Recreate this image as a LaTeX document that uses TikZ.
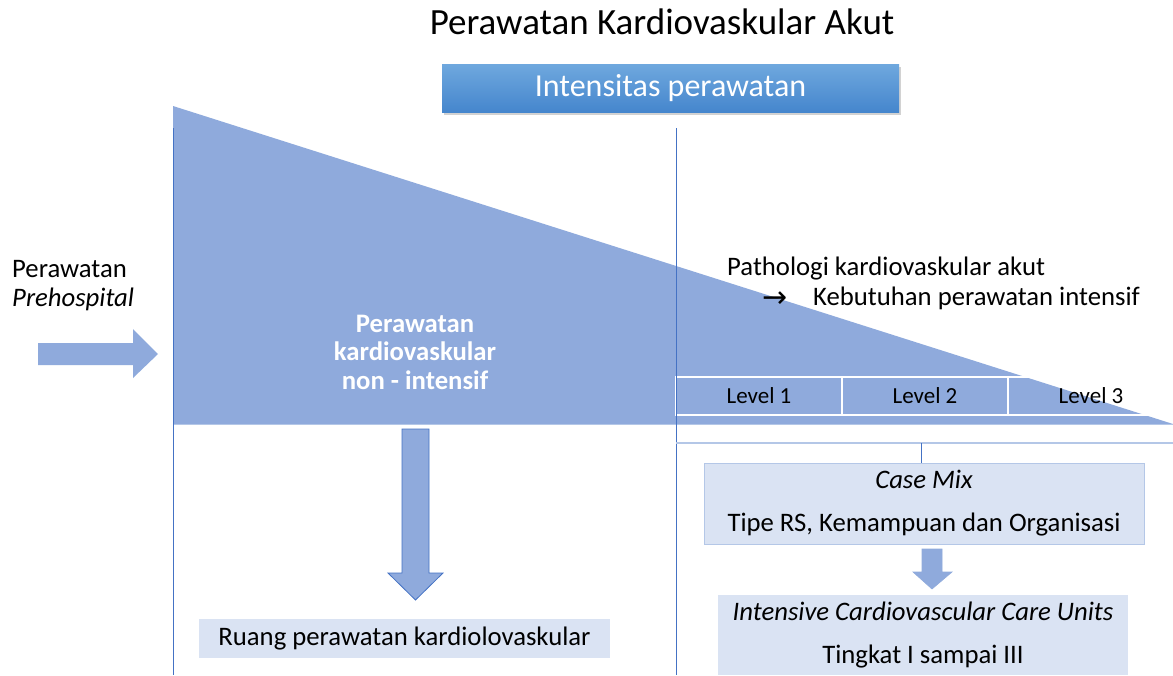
\documentclass[tikz,border=0pt]{standalone}
\usepackage{fontspec}
\setmainfont{Carlito}
\newfontfamily\symfont{DejaVu Sans}
\usetikzlibrary{shadows}
\definecolor{triblue}{HTML}{8FAADC}
\definecolor{lineblue}{HTML}{4472C4}
\definecolor{boxblue}{HTML}{DAE3F3}
\definecolor{lightline}{HTML}{B4C7E7}
\definecolor{hdtop}{HTML}{6FA8DE}
\definecolor{hdbot}{HTML}{4586CD}
\newcommand{\fs}[2]{\fontsize{#1}{#2}\selectfont}
\begin{document}
\begin{tikzpicture}[x=1pt,y=-1pt,
  txt/.style={inner sep=0pt, font=\fs{26.7}{30}},
  levelbox/.style={draw=white, line width=1.5pt, minimum width=166pt, minimum height=38pt, inner sep=0pt, font=\fs{23}{26}},
  infobox/.style={draw=lightline, fill=boxblue, inner sep=0pt, align=center, font=\fs{26.7}{43}},
  vline/.style={draw=lineblue, line width=1pt},
  blockarrow/.style={fill=triblue},
]
\useasboundingbox (0,0) rectangle (1173,675);
\fill[white] (0,0) rectangle (1173,675);

% title
\node[txt, font=\fs{37}{40}, anchor=base] (title) at (662,34) {Perawatan Kardiovaskular Akut};

% triangle
\fill[triblue] (173,106) -- (173,424) -- (1173,424) -- cycle;
\draw[lightline, line width=1pt] (173,424) -- (1173,424);

% levels
\node[levelbox] (l1) at (759,396) {Level 1};
\node[levelbox] (l2) at (925,396) {Level 2};
\node[levelbox] (l3) at (1091,396) {Level 3};

% vertical lines
\coordinate (v1t) at (173,128); \coordinate (v1b) at (173,675);
\coordinate (v2t) at (676,128); \coordinate (v2b) at (676,675);
\draw[vline] (v1t) -- (v1b);
\draw[vline] (v2t) -- (v2b);

% header
\node[inner sep=0pt, minimum width=457pt, minimum height=48pt, top color=hdtop, bottom color=hdbot, drop shadow={shadow xshift=2pt, shadow yshift=-3pt, opacity=0.35}, text=white, font=\fs{32}{36}] (header) at (670.5,88) {Intensitas perawatan};

% prehospital
\node[txt, anchor=base west] (pre1) at (12,277) {Perawatan};
\node[txt, anchor=base west, font=\fs{26.7}{30}\itshape] (pre2) at (12,306) {Prehospital};
\path[blockarrow] (38,343) -- (133,343) -- (133,329) -- (158,354) -- (133,378) -- (133,365) -- (38,365) -- cycle;

% triangle text
\node[txt, text=white, font=\fs{26.7}{28.5}\bfseries, align=center] (nonint) at (415,352) {Perawatan\\kardiovaskular\\non - intensif};

% pathologi
\node[txt, anchor=base west] (path1) at (727,275) {Pathologi kardiovaskular akut};
\node[txt, anchor=base west, font=\fs{30}{32}\symfont] (arr) at (762,307) {→};
\node[txt, anchor=base west] (path2) at (813,305) {Kebutuhan perawatan intensif};

\coordinate (bl) at (676,443); \coordinate (br) at (1173,443);
\draw[lightline, line width=2pt] (bl) -- (br);
\coordinate (c1) at (921,443);

% case mix
\node[infobox, minimum width=440pt, minimum height=81pt] (casemix) at (924,503.5) {\itshape Case Mix\\Tipe RS, Kemampuan dan Organisasi};
\draw[lineblue, line width=0.8pt] (c1) -- (c1 |- casemix.north);

% small arrow
\path[blockarrow, draw=lineblue!60, line width=0.6pt] (922,549) -- (942,549) -- (942,572) -- (952,572) -- (932,589) -- (913,572) -- (922,572) -- cycle;

% ICCU
\node[infobox, draw=none, minimum width=410pt, minimum height=80pt] (iccu) at (923,635) {\itshape Intensive Cardiovascular Care Units\\Tingkat I sampai III};

% big arrow
\path[blockarrow, draw=lineblue, line width=0.8pt] (402,429) -- (429,429) -- (429,573) -- (443,573) -- (415.5,600) -- (388,573) -- (402,573) -- cycle;

% ruang
\node[infobox, draw=none, minimum width=411pt, minimum height=39pt] (ruang) at (404.5,638.5) {Ruang perawatan kardiolovaskular};
\end{tikzpicture}
\end{document}
